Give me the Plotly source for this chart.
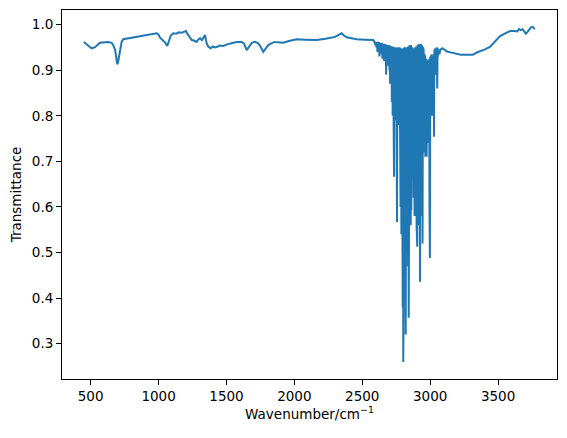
import plotly.graph_objects as go

# Baseline region (low wavenumbers)
low_wn = [450, 470, 490, 507, 530, 568, 600, 630, 655, 666, 680, 690, 696, 702, 710, 716, 728, 740,
          780, 839, 880, 937, 960, 986, 1000, 1010, 1030, 1050, 1064, 1075, 1090, 1108, 1130, 1150,
          1170, 1185, 1202, 1210, 1219, 1230, 1244, 1260, 1280, 1295, 1305, 1320, 1335, 1342, 1348,
          1354, 1365, 1384, 1400, 1415, 1428, 1450, 1476, 1500, 1550, 1580, 1612, 1630, 1649, 1665,
          1686, 1710, 1734, 1750, 1771, 1790, 1808, 1830, 1857, 1880, 1918, 1960, 2017, 2080, 2164,
          2230, 2299, 2330, 2348, 2365, 2385, 2420, 2459, 2520, 2581, 2590]
low_T = [0.962, 0.958, 0.952, 0.948, 0.950, 0.960, 0.961, 0.962, 0.960, 0.955, 0.945, 0.925, 0.913,
         0.918, 0.930, 0.940, 0.962, 0.968, 0.970, 0.973, 0.976, 0.979, 0.980, 0.981, 0.978, 0.972,
         0.966, 0.960, 0.953, 0.965, 0.976, 0.981, 0.980, 0.983, 0.982, 0.984, 0.986, 0.981, 0.977,
         0.972, 0.966, 0.965, 0.962, 0.968, 0.970, 0.966, 0.973, 0.977, 0.968, 0.959, 0.952, 0.948,
         0.952, 0.950, 0.951, 0.954, 0.953, 0.956, 0.960, 0.962, 0.962, 0.958, 0.944, 0.952, 0.960,
         0.962, 0.959, 0.952, 0.940, 0.948, 0.955, 0.959, 0.962, 0.961, 0.960, 0.964, 0.968, 0.967,
         0.966, 0.969, 0.973, 0.978, 0.981, 0.976, 0.972, 0.970, 0.968, 0.967, 0.966, 0.962]

# Absorption lines (minima) in the dense band region
line_wn = [2598, 2604, 2612, 2620, 2626, 2633, 2640, 2648, 2652, 2660, 2668, 2676, 2680, 2688,
           2693, 2700, 2705, 2712, 2718, 2724, 2729, 2734, 2740, 2747, 2752, 2756, 2762, 2767,
           2772, 2777, 2782, 2788, 2794, 2798, 2802, 2806, 2811, 2816, 2820, 2825, 2830, 2836,
           2842, 2846, 2852, 2857, 2861, 2866, 2872, 2878, 2885, 2893, 2900, 2905, 2910, 2916,
           2920, 2925, 2930, 2936, 2940, 2944, 2949, 2955, 2959, 2964, 2969, 2974, 2979, 2985,
           2990, 2995, 2998, 3003, 3008, 3014, 3020, 3025, 3028, 3033, 3040, 3046, 3052, 3057,
           3062, 3068]
line_T = [0.955, 0.950, 0.940, 0.945, 0.930, 0.945, 0.935, 0.925, 0.940, 0.920, 0.935, 0.890,
          0.930, 0.910, 0.935, 0.900, 0.870, 0.880, 0.830, 0.800, 0.860, 0.666, 0.790, 0.800,
          0.780, 0.567, 0.790, 0.780, 0.780, 0.700, 0.600, 0.540, 0.480, 0.380, 0.260, 0.450,
          0.500, 0.420, 0.320, 0.500, 0.560, 0.470, 0.357, 0.520, 0.580, 0.560, 0.593, 0.700,
          0.850, 0.620, 0.580, 0.600, 0.560, 0.513, 0.600, 0.560, 0.600, 0.436, 0.620, 0.600,
          0.580, 0.520, 0.650, 0.720, 0.860, 0.710, 0.760, 0.710, 0.800, 0.740, 0.780, 0.600,
          0.488, 0.880, 0.850, 0.800, 0.870, 0.880, 0.754, 0.900, 0.890, 0.910, 0.860, 0.930,
          0.940, 0.935]

# Local maxima between the lines
top_wn = [2601, 2608, 2616, 2623, 2630, 2637, 2644, 2650, 2656, 2664, 2672, 2678, 2684, 2691,
          2697, 2703, 2709, 2715, 2721, 2727, 2732, 2737, 2744, 2750, 2754, 2759, 2765, 2770,
          2775, 2780, 2785, 2791, 2796, 2800, 2804, 2809, 2814, 2818, 2823, 2828, 2833, 2839,
          2844, 2849, 2855, 2859, 2864, 2869, 2875, 2882, 2889, 2897, 2903, 2908, 2913, 2918,
          2923, 2928, 2933, 2938, 2942, 2947, 2952, 2957, 2962, 2967, 2972, 2977, 2982, 2988,
          2993, 2997, 3001, 3006, 3011, 3017, 3023, 3027, 3031, 3037, 3043, 3049, 3055, 3060, 3065]
top_T = [0.962, 0.962, 0.960, 0.962, 0.960, 0.960, 0.960, 0.958, 0.958, 0.958, 0.957, 0.955,
         0.955, 0.955, 0.955, 0.953, 0.953, 0.952, 0.952, 0.952, 0.950, 0.950, 0.950, 0.950,
         0.950, 0.950, 0.950, 0.950, 0.950, 0.950, 0.948, 0.948, 0.948, 0.948, 0.948, 0.948,
         0.950, 0.950, 0.950, 0.950, 0.950, 0.952, 0.952, 0.955, 0.955, 0.955, 0.950, 0.950,
         0.948, 0.948, 0.950, 0.952, 0.955, 0.955, 0.957, 0.957, 0.957, 0.957, 0.955, 0.955,
         0.953, 0.950, 0.945, 0.935, 0.930, 0.925, 0.925, 0.922, 0.922, 0.925, 0.925, 0.925,
         0.930, 0.932, 0.935, 0.925, 0.930, 0.935, 0.945, 0.948, 0.946, 0.950, 0.948, 0.945,
         0.945]

# Baseline region (high wavenumbers)
high_wn = [3075, 3090, 3105, 3124, 3150, 3180, 3225, 3270, 3314, 3352, 3400, 3440, 3480, 3515,
           3560, 3591, 3620, 3641, 3655, 3666, 3680, 3692, 3705, 3717, 3730, 3742, 3755, 3770]
high_T = [0.945, 0.948, 0.944, 0.941, 0.939, 0.937, 0.934, 0.934, 0.934, 0.940, 0.945, 0.951,
          0.965, 0.975, 0.982, 0.986, 0.986, 0.985, 0.990, 0.988, 0.990, 0.986, 0.980, 0.984,
          0.990, 0.994, 0.995, 0.990]

x_ticks = [500, 1000, 1500, 2000, 2500, 3000, 3500]
y_ticks = [0.3, 0.4, 0.5, 0.6, 0.7, 0.8, 0.9, 1.0]

pts = list(zip(low_wn, low_T)) + sorted(list(zip(line_wn, line_T)) + list(zip(top_wn, top_T))) \
    + list(zip(high_wn, high_T))
x = [p[0] for p in pts]
y = [p[1] for p in pts]

fig = go.Figure()
fig.add_trace(go.Scatter(x=x, y=y, mode="lines",
                         line=dict(color="#1f77b4", width=2), showlegend=False))

font = dict(family="DejaVu Sans", size=13.5, color="black")
axis_common = dict(showgrid=False, zeroline=False, showline=True, linecolor="black",
                   linewidth=1, mirror=True, ticks="outside", ticklen=5, tickwidth=1,
                   tickcolor="black", tickfont=font, automargin=False)
fig.update_xaxes(range=[289, 3934], tickvals=x_ticks,
                 title=dict(text="Wavenumber/cm<sup>−1</sup>", font=font, standoff=4),
                 **axis_common)
fig.update_yaxes(range=[0.2226, 1.032], tickvals=y_ticks, tickformat=".1f",
                 title=dict(text="Transmittance", font=font, standoff=8),
                 **axis_common)
# the page body adds an 8px offset, so the figure is slightly smaller
fig.update_layout(width=559, height=430, margin=dict(l=54, r=10, t=2, b=59, autoexpand=False),
                  plot_bgcolor="white", paper_bgcolor="white", font=font)
fig.write_html("out.html")
